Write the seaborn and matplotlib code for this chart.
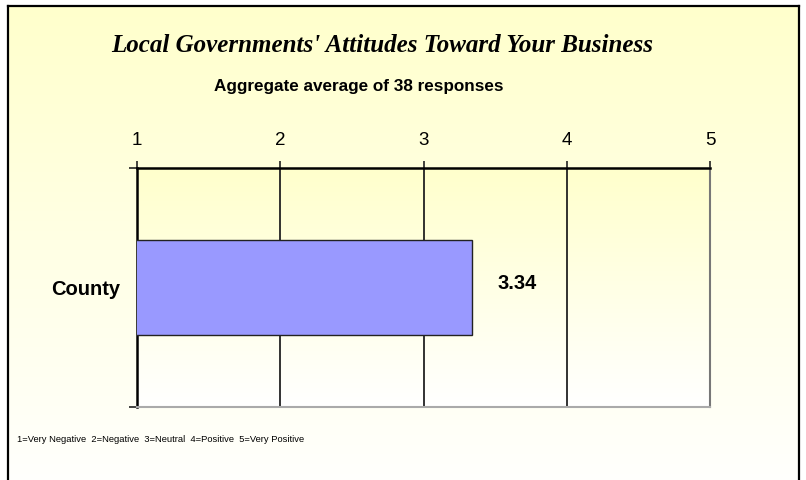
import numpy as np
import pandas as pd
import matplotlib
matplotlib.use("Agg")
import matplotlib.pyplot as plt
import seaborn as sns
from matplotlib.colors import LinearSegmentedColormap

categories = ["County"]
values = [3.34]
tick_values = [1, 2, 3, 4, 5]
title = "Local Governments' Attitudes Toward Your Business"
subtitle = "Aggregate average of 38 responses"
footnote = "1=Very Negative  2=Negative  3=Neutral  4=Positive  5=Very Positive"

sns.set_style("white")
plt.rcParams['font.family'] = ['Liberation Sans', 'DejaVu Sans']
plt.rcParams['text.color'] = 'black'
plt.rcParams['xtick.color'] = 'black'
plt.rcParams['ytick.color'] = 'black'

W, H = 806, 480
fig = plt.figure(figsize=(W / 100, H / 100), dpi=100)
fig.patch.set_facecolor("white")

# background frame with gradient
bg = fig.add_axes([8 / W, -0.05, 791 / W, 1.05 - 6 / H], zorder=-10)
cmap_bg = LinearSegmentedColormap.from_list("bg", ["#FFFFCC", "#FFFFFF"])
grad = np.linspace(0, 1, 256).reshape(-1, 1)
bg.imshow(grad, aspect="auto", cmap=cmap_bg, extent=(0, 1, 0, 1), origin="upper")
bg.set_xticks([]); bg.set_yticks([])
for s in ["left", "top", "right"]:
    bg.spines[s].set_color("black")
    bg.spines[s].set_linewidth(1.6)
bg.spines["bottom"].set_visible(False)

# main axes
x0, x1, yt, yb = 137, 710, 168, 407
ax = fig.add_axes([x0 / W, 1 - yb / H, (x1 - x0) / W, (yb - yt) / H])
df = pd.DataFrame({"cat": categories, "val": values})
sns.barplot(data=df, x="val", y="cat", orient="h", width=0.4,
            color="#9999FF", saturation=1, edgecolor="#222222", linewidth=1.0,
            ax=ax, zorder=3)

cmap_pa = LinearSegmentedColormap.from_list("pa", ["#FFFFFF", "#FFFFCC"])
ax.imshow(grad, aspect="auto", cmap=cmap_pa, extent=(1, 5, 0.5, -0.5),
          origin="lower", zorder=0)
ax.set_xlim(1, 5)
ax.set_ylim(0.5, -0.5)

for xv in tick_values[1:-1]:
    ax.axvline(xv, color="#222222", linewidth=1.3, zorder=2)

ax.xaxis.tick_top()
ax.set_xticks(tick_values)
ax.set_xticklabels([str(t) for t in tick_values], fontsize=13.5)
ax.tick_params(axis="x", direction="out", length=5, width=1.2, color="#222222",
               pad=9, top=True, bottom=False)
ax.set_yticks([-0.5, 0.5])
ax.set_yticklabels(["", ""])
ax.tick_params(axis="y", direction="out", length=6, width=1.2, color="#222222", left=True)
ax.set_yticks([0], minor=True)
ax.set_yticklabels(categories, minor=True, fontsize=14.5, fontweight="bold")
ax.tick_params(axis="y", which="minor", length=0, pad=12)
ax.set_xlabel(""); ax.set_ylabel("")

ax.spines["top"].set_color("black"); ax.spines["top"].set_linewidth(1.8)
ax.spines["left"].set_color("black"); ax.spines["left"].set_linewidth(1.8)
ax.spines["right"].set_color("#777777"); ax.spines["right"].set_linewidth(1.5)
ax.spines["bottom"].set_color("#AAAAAA"); ax.spines["bottom"].set_linewidth(1.5)
for s in ax.spines.values():
    s.set_visible(True)

for i, v in enumerate(values):
    ax.annotate(f"{v:.2f}", xy=(v, i), xytext=(18, 3), textcoords="offset points",
                ha="left", va="center", fontsize=14.5, fontweight="bold")

fig.text(382 / W, 1 - 45 / H, title, ha="center", va="center",
         fontsize=18, fontweight="bold", fontstyle="italic",
         family=["Liberation Serif", "DejaVu Serif"])
fig.text(359 / W, 1 - 87 / H, subtitle, ha="center", va="center",
         fontsize=12.3, fontweight="bold")
fig.text(17 / W, 1 - 440 / H, footnote, ha="left", va="center", fontsize=6.75)

fig.savefig("out.png", dpi=100)
